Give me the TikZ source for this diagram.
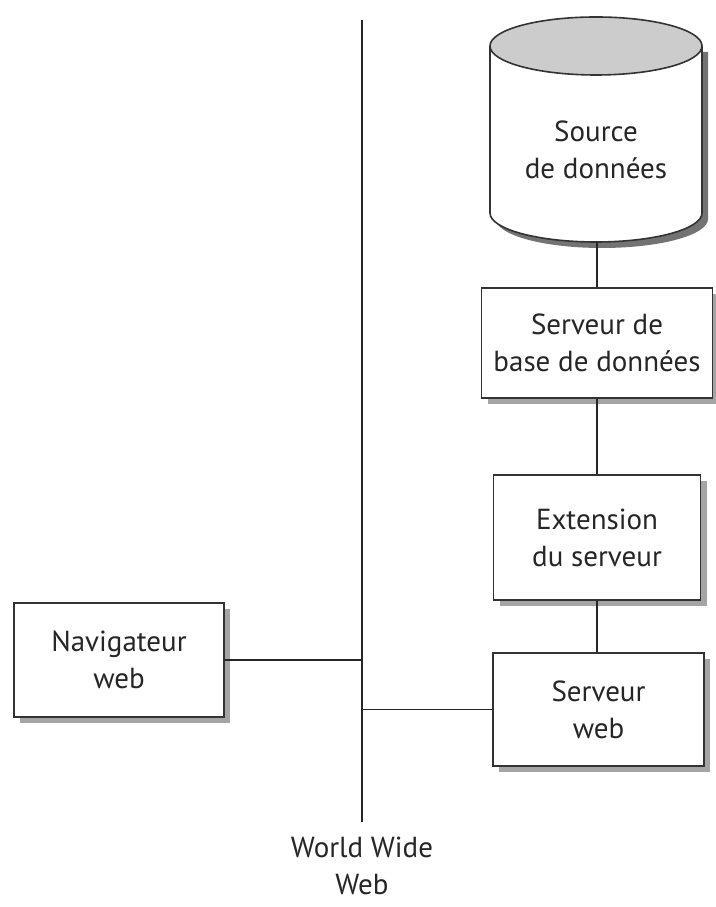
\documentclass[tikz,border=0pt]{standalone}
\usepackage{fontspec}
\setmainfont{PT Sans}
\usetikzlibrary{shadows}

\begin{document}
\begin{tikzpicture}[x=1pt,y=1pt,line width=1.6pt,
  box/.style={draw=black!80,fill=white,align=center,inner sep=0pt,
    drop shadow={shadow xshift=6pt,shadow yshift=-6pt,fill=black!70}},
  txt/.style={align=center,font=\fontsize{29}{37}\selectfont,text=black!85}]
\useasboundingbox (0,0) rectangle (715,907);
% Web line
\coordinate (wtop) at (362,887);
\coordinate (wbot) at (362,85);
\draw[black!85] (wtop) -- (wbot);
\node[txt] (www) at (362,41) {World Wide\\Web};
% Data source
\fill[black!55] (496,855) -- (496,688) arc[start angle=180,end angle=360,x radius=106,y radius=29] -- (708,855) -- cycle;
\draw[black!80,fill=white] (490,861) -- (490,694) arc[start angle=180,end angle=360,x radius=106,y radius=29] -- (702,861);
\draw[black!80,fill=black!20] (596,861) ellipse[x radius=106,y radius=29];
\node[txt] (src) at (596,757) {Source\\de données};
\coordinate (srcbot) at (597,665);
% Boxes
\node[box,txt,minimum width=231pt,minimum height=110pt] (dbs) at (597,564) {Serveur de\\base de données};
\node[box,txt,minimum width=207pt,minimum height=125pt] (ext) at (597,369.5) {Extension\\du serveur};
\node[box,txt,minimum width=211pt,minimum height=113pt] (srv) at (598.5,197.5) {Serveur\\web};
\node[box,txt,minimum width=210pt,minimum height=114pt] (nav) at (119,247) {Navigateur\\web};
% Links
\draw[black!85] (srcbot) -- (srcbot |- dbs.north);
\draw[black!85] (dbs.south) -- (ext.north);
\draw[black!85] (ext.south) -- (ext.south |- srv.north);
\draw[black!85] (nav.east) -- (nav.east -| wtop);
\draw[black!85] (srv.west) -- (srv.west -| wtop);
\end{tikzpicture}
\end{document}
